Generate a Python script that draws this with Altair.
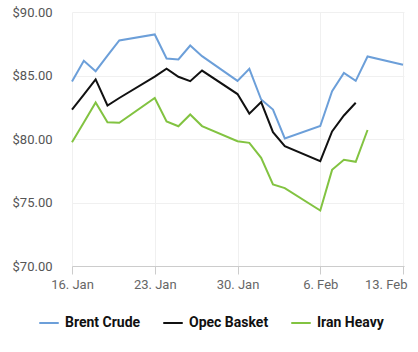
import altair as alt
import pandas as pd

dates = ["2023-01-16", "2023-01-17", "2023-01-18", "2023-01-19", "2023-01-20",
         "2023-01-23", "2023-01-24", "2023-01-25", "2023-01-26", "2023-01-27",
         "2023-01-30", "2023-01-31", "2023-02-01", "2023-02-02", "2023-02-03",
         "2023-02-06", "2023-02-07", "2023-02-08", "2023-02-09", "2023-02-10",
         "2023-02-13"]

brent = [84.53, 86.16, 85.34, 86.57, 87.76, 88.23, 86.34, 86.26, 87.36, 86.52,
         84.58, 85.53, 83.11, 82.32, 80.04, 81.02, 83.76, 85.20, 84.58, 86.50,
         85.84]
opec = [82.32, 83.50, 84.69, 82.64, 83.23, 84.91, 85.53, 84.90, 84.55, 85.39,
        83.54, 82.00, 82.91, 80.54, 79.43, 78.25, 80.60, 81.85, 82.85]
iran = [79.75, 81.30, 82.87, 81.32, 81.28, 83.23, 81.38, 81.00, 81.93, 81.02,
        79.83, 79.70, 78.52, 76.42, 76.13, 74.37, 77.57, 78.36, 78.20, 80.71]

series_names = ["Brent Crude", "Opec Basket", "Iran Heavy"]
series_colors = ["#6c9fd9", "#111111", "#82c341"]
y_ticks = [70, 75, 80, 85, 90]
x_ticks = [(1, 16), (1, 23), (1, 30), (2, 6), (2, 13)]

rows = []
for name, vals in zip(series_names, [brent, opec, iran]):
    for d, v in zip(dates, vals):
        rows.append({"date": d + "T00:00:00", "series": name, "price": v})
df = pd.DataFrame(rows)

chart = alt.Chart(df).mark_line(strokeWidth=2).encode(
    x=alt.X(
        "date:T",
        title=None,
        scale=alt.Scale(domain=[alt.DateTime(year=2023, month=1, date=16),
                                alt.DateTime(year=2023, month=2, date=13, hours=2)]),
        axis=alt.Axis(
            values=[alt.DateTime(year=2023, month=m, date=d) for m, d in x_ticks],
            format="%-d. %b",
            labelFont="Roboto", labelFontSize=13, labelColor="#666666",
            labelAlign=alt.ExprRef(expr="date(datum.value) == 13 ? 'right' : 'center'"),
            labelOffset=alt.ExprRef(expr="date(datum.value) == 13 ? 4 : 0"),
            domainColor="#cccccc", tickColor="#cccccc", tickSize=8,
            labelPadding=4, gridColor="#f0f0f0", labelFlush=False,
        ),
    ),
    y=alt.Y(
        "price:Q",
        title=None,
        scale=alt.Scale(domain=[70, 90], nice=False, zero=False),
        axis=alt.Axis(
            values=y_ticks, format="$.2f",
            labelFont="Roboto", labelFontSize=13, labelColor="#555555",
            domain=False, ticks=False, labelPadding=20, gridColor="#f0f0f0",
        ),
    ),
    color=alt.Color(
        "series:N",
        scale=alt.Scale(domain=series_names, range=series_colors),
        sort=series_names,
        legend=alt.Legend(
            title=None, orient="none", direction="horizontal",
            legendX=-34, legendY=300,
            symbolType="stroke", symbolSize=380, symbolStrokeWidth=2,
            labelFont="Roboto", labelFontSize=14, labelFontWeight="bold",
            labelColor="#111111", columnPadding=18, labelOffset=5,
        ),
    ),
    order=alt.Order("date:T"),
).properties(
    width=332, height=254,
    autosize=alt.AutoSizeParams(type="none"),
    padding={"left": 72, "top": 12, "right": 14, "bottom": 86},
    background="white",
).configure_view(stroke=None)

chart.save("out.html", embed_options={"renderer": "svg", "actions": False})
